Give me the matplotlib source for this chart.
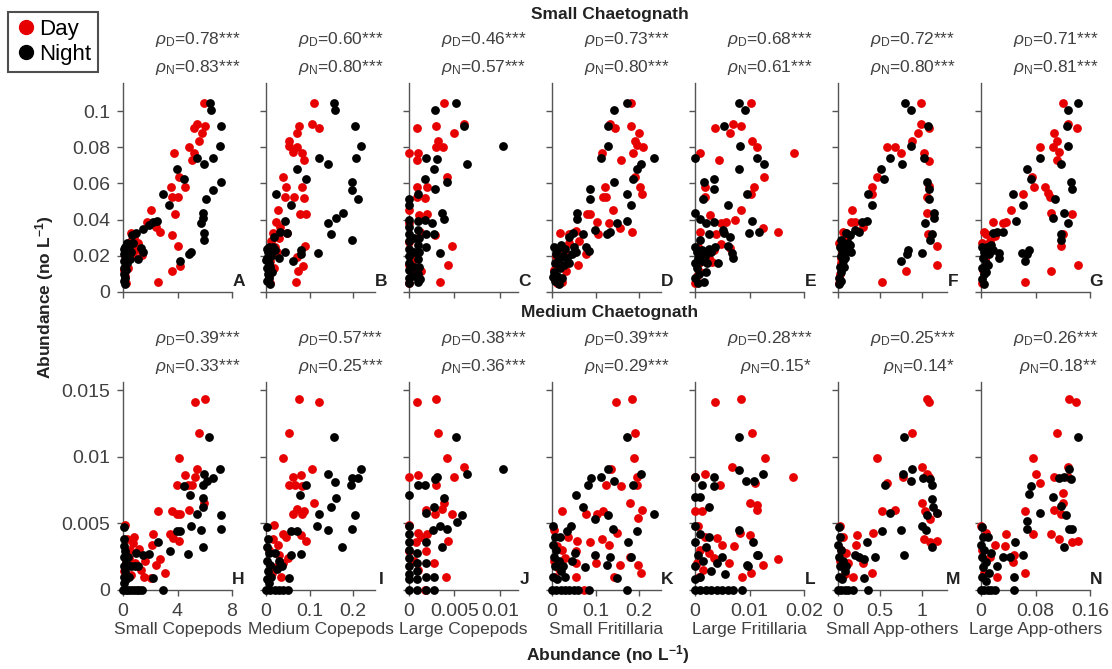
import numpy as np
import matplotlib.pyplot as plt
from matplotlib.lines import Line2D

plt.rcParams['font.family'] = ['Liberation Sans', 'DejaVu Sans']
plt.rcParams['mathtext.fontset'] = 'custom'
plt.rcParams['mathtext.rm'] = 'Liberation Sans'
plt.rcParams['mathtext.it'] = 'Liberation Sans:italic'
plt.rcParams['mathtext.bf'] = 'Liberation Sans:bold'

# ---- labels / stats ----
prey = ['Small Copepods', 'Medium Copepods', 'Large Copepods', 'Small Fritillaria',
        'Large Fritillaria', 'Small App-others', 'Large App-others']
letters_small = ['A', 'B', 'C', 'D', 'E', 'F', 'G']
letters_medium = ['H', 'I', 'J', 'K', 'L', 'M', 'N']
rho_small_day = ['0.78***', '0.60***', '0.46***', '0.73***', '0.68***', '0.72***', '0.71***']
rho_small_night = ['0.83***', '0.80***', '0.57***', '0.80***', '0.61***', '0.80***', '0.81***']
rho_medium_day = ['0.39***', '0.57***', '0.38***', '0.39***', '0.28***', '0.25***', '0.26***']
rho_medium_night = ['0.33***', '0.25***', '0.36***', '0.29***', '0.15*', '0.14*', '0.18**']

x_max = [8, 0.25, 0.012, 0.25, 0.02, 1.3, 0.16]
x_ticks = [[0, 4, 8], [0, 0.1, 0.2], [0, 0.005, 0.01], [0, 0.1, 0.2],
           [0, 0.01, 0.02], [0, 0.5, 1], [0, 0.08, 0.16]]
x_ticklabels = [['0', '4', '8'], ['0', '0.1', '0.2'], ['0', '0.005', '0.01'], ['0', '0.1', '0.2'],
                ['0', '0.01', '0.02'], ['0', '0.5', '1'], ['0', '0.08', '0.16']]
y_ticks_small = [0, 0.02, 0.04, 0.06, 0.08, 0.1]
y_ticklabels_small = ['0', '0.02', '0.04', '0.06', '0.08', '0.1']
y_ticks_medium = [0, 0.005, 0.01, 0.015]
y_ticklabels_medium = ['0', '0.005', '0.01', '0.015']

# ---- small chaetognath (x = prey abundance, y = chaetognath abundance) ----
A_day = [(5.97, 0.1045), (5.41, 0.0926), (5.24, 0.0907), (6.02, 0.0918), (5.82, 0.0876), (5.60, 0.0835),
         (4.84, 0.0802), (5.24, 0.0770), (5.09, 0.0729), (3.77, 0.0770), (4.11, 0.0637), (4.55, 0.0581),
         (3.50, 0.0578), (3.62, 0.0523), (4.01, 0.0526), (3.84, 0.0429), (2.05, 0.0453), (1.74, 0.0388),
         (2.42, 0.0360), (2.71, 0.0333), (3.60, 0.0315), (4.06, 0.0256), (4.16, 0.0145), (3.57, 0.0118),
         (2.54, 0.0057), (0.56, 0.0324), (0.80, 0.0300), (1.13, 0.0269), (1.42, 0.0204), (0.76, 0.0213),
         (1.0, 0.024), (0.45, 0.026), (0.3, 0.022), (0.22, 0.0048), (0.15, 0.009), (0.35, 0.013),
         (0.25, 0.017), (0.1, 0.012), (0.6, 0.028), (0.4, 0.0195), (0.12, 0.02)]
A_night = [(6.38, 0.1045), (6.46, 0.1008), (7.19, 0.0918), (7.12, 0.0806), (6.63, 0.0743), (5.92, 0.0705),
           (5.43, 0.0743), (7.19, 0.0609), (6.58, 0.0563), (6.09, 0.0512), (5.85, 0.0434), (5.90, 0.0407),
           (5.70, 0.0379), (5.92, 0.0324), (5.92, 0.0290), (4.97, 0.0223), (4.82, 0.0210), (4.18, 0.0171),
           (3.94, 0.0677), (4.48, 0.0624), (2.96, 0.0541), (3.40, 0.0480), (2.47, 0.0392), (2.18, 0.0388),
           (1.93, 0.0370), (1.49, 0.0346), (0.95, 0.0328), (0.64, 0.0315), (0.76, 0.0269), (1.30, 0.0245),
           (1.44, 0.0223), (1.08, 0.0182), (0.05, 0.024), (0.15, 0.025), (0.25, 0.023), (0.1, 0.021),
           (0.2, 0.019), (0.05, 0.017), (0.3, 0.016), (0.12, 0.014), (0.22, 0.012), (0.08, 0.010),
           (0.18, 0.008), (0.1, 0.006), (0.15, 0.0045), (0.35, 0.021), (0.45, 0.024), (0.5, 0.018),
           (0.28, 0.027), (0.05, 0.013), (0.6, 0.022)]
B_day = [(0.111, 0.1045), (0.105, 0.0926), (0.121, 0.0904), (0.076, 0.0918), (0.070, 0.0876), (0.052, 0.0835),
         (0.052, 0.0806), (0.072, 0.0802), (0.061, 0.0775), (0.083, 0.0770), (0.087, 0.0729), (0.038, 0.0637),
         (0.045, 0.0581), (0.043, 0.0523), (0.064, 0.0526), (0.083, 0.0581), (0.087, 0.0521), (0.092, 0.0429),
         (0.077, 0.0429), (0.028, 0.0453), (0.022, 0.0388), (0.033, 0.0360), (0.049, 0.0324), (0.070, 0.0195),
         (0.089, 0.0256), (0.085, 0.0145), (0.074, 0.0118), (0.068, 0.0057), (0.017, 0.0324), (0.012, 0.028),
         (0.020, 0.025), (0.015, 0.021), (0.009, 0.0048), (0.010, 0.017), (0.018, 0.013), (0.006, 0.009),
         (0.025, 0.022), (0.03, 0.03), (0.008, 0.02)]
B_night = [(0.155, 0.1045), (0.159, 0.1008), (0.205, 0.0918), (0.218, 0.0806), (0.206, 0.0743), (0.121, 0.0743),
           (0.142, 0.0705), (0.197, 0.0609), (0.197, 0.0563), (0.210, 0.0512), (0.176, 0.0434), (0.161, 0.0407),
           (0.143, 0.0379), (0.148, 0.0318), (0.197, 0.0290), (0.119, 0.0213), (0.072, 0.0677), (0.091, 0.0624),
           (0.024, 0.0541), (0.058, 0.0480), (0.081, 0.0232), (0.080, 0.0210), (0.061, 0.0171), (0.043, 0.0392),
           (0.049, 0.0324), (0.032, 0.0333), (0.018, 0.0306), (0.043, 0.0223), (0.030, 0.0186), (0.002, 0.024),
           (0.005, 0.022), (0.008, 0.025), (0.003, 0.019), (0.006, 0.016), (0.002, 0.013), (0.01, 0.014),
           (0.004, 0.010), (0.007, 0.008), (0.003, 0.006), (0.009, 0.0045), (0.012, 0.02), (0.015, 0.025),
           (0.02, 0.023), (0.013, 0.011), (0.001, 0.0175)]
C_day = [(0.0039, 0.1045), (0.0030, 0.0918), (0.0060, 0.0926), (0.0050, 0.0876), (0.00085, 0.0904),
         (0.0032, 0.0835), (0.0030, 0.0802), (0.0037, 0.0799), (0.0, 0.0770), (0.0010, 0.0770), (0.0009, 0.0729),
         (0.0042, 0.0637), (0.0009, 0.0581), (0.0020, 0.0578), (0.0009, 0.0526), (0.0018, 0.0517),
         (0.0, 0.0453), (0.0011, 0.0425), (0.0020, 0.0429), (0.0, 0.0379), (0.0029, 0.0315), (0.0012, 0.0333),
         (0.0047, 0.0256), (0.0043, 0.0149), (0.0034, 0.0057), (0.0013, 0.0118), (0.0, 0.0048), (0.0, 0.0278),
         (0.0002, 0.022), (0.0, 0.015), (0.0004, 0.010), (0.0007, 0.018)]
C_night = [(0.0052, 0.1045), (0.0029, 0.1008), (0.0060, 0.0918), (0.0103, 0.0806), (0.0064, 0.0705),
           (0.0019, 0.0743), (0.0031, 0.0737), (0.0027, 0.0677), (0.0018, 0.0622), (0.0042, 0.0609),
           (0.0029, 0.0567), (0.0010, 0.0539), (0.0, 0.0513), (0.0, 0.0480), (0.0036, 0.0434), (0.0039, 0.0401),
           (0.0010, 0.0392), (0.0018, 0.0397), (0.0025, 0.0379), (0.0019, 0.0320), (0.0028, 0.0320),
           (0.0019, 0.0247), (0.0034, 0.0213), (0.0010, 0.0057), (0.0, 0.040), (0.0, 0.036), (0.0, 0.032),
           (0.0, 0.028), (0.0, 0.024), (0.0, 0.020), (0.0, 0.016), (0.0, 0.012), (0.0, 0.008), (0.0, 0.005),
           (0.0005, 0.030), (0.0005, 0.022), (0.0005, 0.014), (0.0005, 0.009), (0.0010, 0.034), (0.0011, 0.030),
           (0.0010, 0.026), (0.0011, 0.022), (0.0010, 0.018), (0.0011, 0.014), (0.0010, 0.010), (0.0012, 0.007)]
D_day = [(0.181, 0.1045), (0.134, 0.0926), (0.145, 0.0904), (0.181, 0.0918), (0.199, 0.0876), (0.190, 0.0835),
         (0.196, 0.0811), (0.209, 0.0802), (0.185, 0.0770), (0.159, 0.0729), (0.115, 0.0770), (0.190, 0.0637),
         (0.201, 0.0581), (0.206, 0.0540), (0.121, 0.0581), (0.117, 0.0523), (0.124, 0.0523), (0.139, 0.0453),
         (0.080, 0.0429), (0.087, 0.0429), (0.103, 0.0388), (0.130, 0.0383), (0.157, 0.0355), (0.184, 0.0333),
         (0.106, 0.0320), (0.019, 0.0324), (0.038, 0.0320), (0.055, 0.0339), (0.061, 0.0283), (0.079, 0.0210),
         (0.059, 0.0149), (0.031, 0.0118), (0.024, 0.0057), (0.012, 0.0048), (0.010, 0.020), (0.020, 0.025),
         (0.015, 0.015), (0.005, 0.012), (0.030, 0.022), (0.040, 0.027), (0.008, 0.009)]
D_night = [(0.172, 0.1045), (0.142, 0.1008), (0.129, 0.0918), (0.129, 0.0806), (0.112, 0.0743), (0.234, 0.0743),
           (0.205, 0.0705), (0.196, 0.0677), (0.142, 0.0609), (0.186, 0.0622), (0.172, 0.0539), (0.181, 0.0480),
           (0.173, 0.0394), (0.148, 0.0379), (0.133, 0.0333), (0.127, 0.0320), (0.099, 0.0342), (0.087, 0.0567),
           (0.088, 0.0513), (0.058, 0.0434), (0.058, 0.0401), (0.070, 0.0320), (0.048, 0.0324), (0.078, 0.0250),
           (0.085, 0.0228), (0.040, 0.0306), (0.055, 0.0223), (0.005, 0.025), (0.012, 0.023), (0.02, 0.026),
           (0.03, 0.024), (0.025, 0.02), (0.015, 0.018), (0.035, 0.019), (0.045, 0.021), (0.008, 0.016),
           (0.018, 0.013), (0.028, 0.015), (0.004, 0.011), (0.012, 0.009), (0.022, 0.008), (0.006, 0.006),
           (0.016, 0.0045), (0.002, 0.0085), (0.04, 0.016), (0.05, 0.025), (0.01, 0.021)]
E_day = [(0.0102, 0.1045), (0.0085, 0.0918), (0.0070, 0.0926), (0.0065, 0.0876), (0.0036, 0.0904),
         (0.0104, 0.0835), (0.0114, 0.0802), (0.0181, 0.0770), (0.0009, 0.0770), (0.0044, 0.0729),
         (0.0126, 0.0637), (0.0108, 0.0581), (0.0019, 0.0581), (0.0019, 0.0523), (0.0103, 0.0539),
         (0.0085, 0.0453), (0.0027, 0.0425), (0.0074, 0.0397), (0.0057, 0.0388), (0.0048, 0.0379),
         (0.0125, 0.0355), (0.0152, 0.0333), (0.0010, 0.0333), (0.0038, 0.0320), (0.0048, 0.0263),
         (0.0065, 0.0241), (0.0032, 0.0168), (0.0, 0.0048), (0.0010, 0.0112), (0.0005, 0.025), (0.0015, 0.021),
         (0.0025, 0.019), (0.0008, 0.016), (0.0003, 0.009), (0.0035, 0.023)]
E_night = [(0.0080, 0.1045), (0.0091, 0.1008), (0.0054, 0.0918), (0.0083, 0.0806), (0.0114, 0.0743),
           (0.0126, 0.0705), (0.0080, 0.0677), (0.0, 0.0743), (0.0017, 0.0609), (0.0035, 0.0622), (0.0034, 0.0567),
           (0.0015, 0.0513), (0.0060, 0.0480), (0.0096, 0.0539), (0.0, 0.0434), (0.0010, 0.0401), (0.0020, 0.0379),
           (0.0034, 0.0388), (0.0051, 0.0342), (0.0054, 0.0324), (0.0065, 0.0306), (0.0099, 0.0324),
           (0.0105, 0.0394), (0.0117, 0.0333), (0.0025, 0.0320), (0.0009, 0.0290), (0.0060, 0.0256),
           (0.0037, 0.0250), (0.0068, 0.0213), (0.0070, 0.0186), (0.0043, 0.0158), (0.0020, 0.0112),
           (0.0017, 0.0057), (0.0, 0.025), (0.0003, 0.022), (0.0006, 0.019), (0.0, 0.016), (0.0004, 0.013),
           (0.0008, 0.010), (0.0, 0.008), (0.0005, 0.005), (0.0012, 0.023), (0.0018, 0.02), (0.0025, 0.024),
           (0.0013, 0.017), (0.0030, 0.022), (0.0022, 0.016)]
F_day = [(0.99, 0.1045), (0.99, 0.0926), (1.09, 0.0904), (0.95, 0.0876), (0.88, 0.0835), (0.68, 0.0802),
         (0.58, 0.0802), (0.75, 0.0770), (1.02, 0.0770), (1.09, 0.0725), (0.47, 0.0637), (0.41, 0.0581),
         (0.40, 0.0540), (1.06, 0.0526), (1.08, 0.0585), (1.06, 0.0434), (1.07, 0.0318), (1.18, 0.0256),
         (1.18, 0.0149), (0.81, 0.0118), (0.52, 0.0057), (0.17, 0.0453), (0.20, 0.0388), (0.15, 0.0388),
         (0.30, 0.0360), (0.06, 0.0333), (0.09, 0.0324), (0.016, 0.0048), (0.02, 0.010), (0.03, 0.016),
         (0.05, 0.022), (0.01, 0.027), (0.08, 0.028), (0.04, 0.019), (0.12, 0.031)]
F_night = [(0.80, 0.1045), (0.87, 0.1008), (1.07, 0.0918), (0.87, 0.0806), (0.62, 0.0743), (0.76, 0.0705),
           (1.02, 0.0743), (0.51, 0.0677), (0.55, 0.0622), (0.36, 0.0541), (0.41, 0.0480), (1.06, 0.0609),
           (1.08, 0.0567), (1.09, 0.0512), (1.14, 0.0434), (1.14, 0.0407), (1.04, 0.0379), (1.12, 0.0320),
           (1.10, 0.0290), (1.00, 0.0213), (0.84, 0.0232), (0.82, 0.0210), (0.75, 0.0171), (0.35, 0.0392),
           (0.29, 0.0388), (0.25, 0.0333), (0.20, 0.0342), (0.14, 0.0315), (0.10, 0.0328), (0.14, 0.0260),
           (0.16, 0.0223), (0.08, 0.0186), (0.02, 0.025), (0.05, 0.023), (0.08, 0.025), (0.03, 0.020),
           (0.06, 0.017), (0.02, 0.014), (0.04, 0.011), (0.01, 0.008), (0.03, 0.006), (0.015, 0.0045),
           (0.1, 0.022), (0.12, 0.027), (0.04, 0.029), (0.07, 0.014)]
G_day = [(0.1205, 0.1045), (0.128, 0.0926), (0.141, 0.0904), (0.107, 0.0876), (0.112, 0.0835), (0.106, 0.0802),
         (0.087, 0.0802), (0.115, 0.0775), (0.112, 0.0729), (0.075, 0.0637), (0.078, 0.0581), (0.062, 0.0539),
         (0.101, 0.0526), (0.103, 0.0434), (0.134, 0.0429), (0.120, 0.0318), (0.117, 0.0256), (0.142, 0.0149),
         (0.103, 0.0118), (0.064, 0.0057), (0.044, 0.0453), (0.037, 0.0388), (0.033, 0.0379), (0.017, 0.0388),
         (0.004, 0.0333), (0.008, 0.0320), (0.001, 0.0048), (0.003, 0.012), (0.006, 0.018), (0.010, 0.024),
         (0.002, 0.027), (0.013, 0.028), (0.007, 0.021), (0.02, 0.031), (0.098, 0.0548), (0.094, 0.0583)]
G_night = [(0.142, 0.1045), (0.128, 0.1008), (0.126, 0.0918), (0.128, 0.0806), (0.086, 0.0743), (0.117, 0.0705),
           (0.067, 0.0677), (0.074, 0.0622), (0.047, 0.0541), (0.062, 0.0480), (0.132, 0.0609), (0.133, 0.0567),
           (0.109, 0.0512), (0.122, 0.0434), (0.105, 0.0407), (0.127, 0.0379), (0.117, 0.0320), (0.117, 0.0290),
           (0.070, 0.0232), (0.068, 0.0210), (0.064, 0.0171), (0.060, 0.0213), (0.051, 0.0392), (0.033, 0.0333),
           (0.023, 0.0333), (0.018, 0.0324), (0.026, 0.0213), (0.026, 0.0186), (0.002, 0.025), (0.005, 0.022),
           (0.009, 0.025), (0.003, 0.019), (0.007, 0.016), (0.002, 0.013), (0.005, 0.010), (0.001, 0.007),
           (0.004, 0.0045), (0.012, 0.021), (0.015, 0.026), (0.010, 0.015), (0.018, 0.023), (0.008, 0.011)]

# ---- medium chaetognath ----
H_day = [(6.02, 0.0143), (5.28, 0.0141), (5.60, 0.0118), (4.13, 0.0099), (5.41, 0.0091), (4.55, 0.0086),
         (5.28, 0.0085), (3.94, 0.0079), (5.04, 0.0079), (4.75, 0.0079), (5.97, 0.0065), (4.87, 0.0060),
         (3.57, 0.0059), (3.94, 0.0057), (4.18, 0.0057), (2.54, 0.0059), (3.45, 0.0042), (3.64, 0.0039),
         (4.13, 0.0037), (2.23, 0.0042), (2.10, 0.0034), (2.71, 0.0023), (2.42, 0.0019), (3.08, 0.0013),
         (1.57, 0.0010), (2.05, 0.0009), (0.15, 0.0049), (0.83, 0.0040), (1.20, 0.0031), (0.5, 0.0030),
         (0.2, 0.0022), (0.9, 0.0020), (0.6, 0.0011), (1.3, 0.0015), (0.3, 0.0038), (0.1, 0.0014),
         (0.45, 0.0024), (1.65, 0.0022), (0.7, 0.0035)]
H_night = [(6.34, 0.0115), (7.12, 0.0091), (5.97, 0.0087), (6.58, 0.0084), (6.14, 0.0082), (5.90, 0.0079),
           (4.48, 0.0078), (4.92, 0.0071), (5.90, 0.0069), (5.85, 0.0062), (5.41, 0.0057), (7.19, 0.0056),
           (7.19, 0.0046), (4.99, 0.0048), (5.70, 0.0045), (5.85, 0.0032), (4.80, 0.0027), (4.18, 0.0044),
           (3.94, 0.0044), (3.45, 0.0029), (2.54, 0.0036), (1.93, 0.0027), (1.49, 0.0026), (0.93, 0.0028),
           (2.96, 0.0), (2.23, 0.0009), (0.0, 0.0), (0.2, 0.0), (0.4, 0.0), (0.6, 0.0), (0.8, 0.0), (1.0, 0.0),
           (1.2, 0.0), (1.4, 0.0), (0.05, 0.0047), (0.1, 0.0038), (0.05, 0.0033), (0.15, 0.0029), (0.05, 0.0025),
           (0.2, 0.0020), (0.05, 0.0018), (0.12, 0.0014), (0.05, 0.0010), (0.2, 0.0008), (0.1, 0.0005),
           (0.6, 0.0018), (0.9, 0.0018), (0.45, 0.0010), (1.1, 0.0018), (0.4, 0.0025)]
I_day = [(0.076, 0.0143), (0.121, 0.0141), (0.052, 0.0118), (0.039, 0.0099), (0.105, 0.0091), (0.061, 0.0085),
         (0.081, 0.0086), (0.052, 0.0079), (0.066, 0.0079), (0.083, 0.0078), (0.111, 0.0065), (0.072, 0.0061),
         (0.062, 0.0057), (0.087, 0.0059), (0.083, 0.0057), (0.092, 0.0037), (0.081, 0.0041), (0.019, 0.0049),
         (0.039, 0.0042), (0.028, 0.0034), (0.039, 0.0020), (0.013, 0.0013), (0.045, 0.0040), (0.03, 0.0026),
         (0.022, 0.0017), (0.008, 0.0030), (0.035, 0.0010), (0.015, 0.0038), (0.05, 0.0024)]
I_night = [(0.155, 0.0115), (0.218, 0.0091), (0.197, 0.0084), (0.210, 0.0084), (0.196, 0.0079), (0.142, 0.0087),
           (0.159, 0.0081), (0.161, 0.0069), (0.148, 0.0062), (0.205, 0.0056), (0.121, 0.0057), (0.197, 0.0046),
           (0.142, 0.0045), (0.118, 0.0048), (0.174, 0.0032), (0.091, 0.0079), (0.077, 0.0071), (0.058, 0.0044),
           (0.072, 0.0044), (0.080, 0.0027), (0.058, 0.0026), (0.052, 0.0009), (0.037, 0.0018), (0.0, 0.0),
           (0.01, 0.0), (0.02, 0.0), (0.03, 0.0), (0.04, 0.0), (0.05, 0.0), (0.002, 0.0047), (0.005, 0.0038),
           (0.002, 0.0032), (0.008, 0.0028), (0.003, 0.0022), (0.01, 0.0019), (0.004, 0.0014), (0.012, 0.0010),
           (0.003, 0.0008), (0.02, 0.0028), (0.025, 0.0016), (0.03, 0.0022), (0.006, 0.0005)]
J_day = [(0.00085, 0.0141), (0.0030, 0.0143), (0.0032, 0.0118), (0.0042, 0.0099), (0.0060, 0.0092),
         (0.0050, 0.0085), (0.0010, 0.0086), (0.0030, 0.0079), (0.0, 0.0085), (0.0039, 0.0065), (0.0036, 0.0061),
         (0.0029, 0.0057), (0.0047, 0.0057), (0.0019, 0.0060), (0.0043, 0.0037), (0.0010, 0.0043),
         (0.0020, 0.0042), (0.0019, 0.0029), (0.0028, 0.0020), (0.0041, 0.0010), (0.0018, 0.0), (0.0, 0.0049),
         (0.0, 0.0029), (0.0008, 0.0036), (0.0013, 0.0040), (0.0010, 0.0015), (0.0005, 0.0022)]
J_night = [(0.0052, 0.0115), (0.0103, 0.0091), (0.0064, 0.0087), (0.0031, 0.0085), (0.0029, 0.0083),
           (0.0010, 0.0079), (0.0018, 0.0079), (0.0, 0.0071), (0.0038, 0.0069), (0.0027, 0.0062), (0.0019, 0.0058),
           (0.0058, 0.0056), (0.0034, 0.0048), (0.0042, 0.0046), (0.0026, 0.0045), (0.0053, 0.0051),
           (0.0036, 0.0032), (0.0019, 0.0036), (0.0028, 0.0010), (0.0028, 0.0), (0.0, 0.0048), (0.0, 0.0042),
           (0.0, 0.0036), (0.0, 0.0030), (0.0, 0.0024), (0.0, 0.0018), (0.0, 0.0012), (0.0, 0.0008), (0.0, 0.0),
           (0.0009, 0.0028), (0.0009, 0.0020), (0.0009, 0.0014), (0.0009, 0.0008), (0.0009, 0.0),
           (0.0019, 0.0020), (0.0019, 0.0010), (0.0019, 0.0)]
K_day = [(0.183, 0.0143), (0.147, 0.0141), (0.190, 0.0118), (0.188, 0.0099), (0.136, 0.0091), (0.194, 0.0085),
         (0.196, 0.0079), (0.123, 0.0079), (0.159, 0.0078), (0.179, 0.0065), (0.207, 0.0060), (0.078, 0.0057),
         (0.104, 0.0057), (0.117, 0.0059), (0.023, 0.0059), (0.148, 0.0043), (0.115, 0.0038), (0.130, 0.0034),
         (0.198, 0.0054), (0.088, 0.0036), (0.058, 0.0037), (0.037, 0.0040), (0.055, 0.0029), (0.100, 0.0020),
         (0.155, 0.0019), (0.198, 0.0019), (0.055, 0.0020), (0.024, 0.0030), (0.205, 0.0013), (0.142, 0.0010),
         (0.055, 0.0010), (0.074, 0.0), (0.180, 0.0025), (0.005, 0.0045), (0.012, 0.0033), (0.004, 0.0022),
         (0.015, 0.0016), (0.008, 0.0010), (0.03, 0.0024)]
K_night = [(0.172, 0.0115), (0.205, 0.0087), (0.186, 0.0079), (0.128, 0.0091), (0.142, 0.0082), (0.112, 0.0085),
           (0.089, 0.0084), (0.082, 0.0079), (0.055, 0.0071), (0.070, 0.0062), (0.128, 0.0056), (0.233, 0.0057),
           (0.099, 0.0053), (0.044, 0.0048), (0.035, 0.0044), (0.140, 0.0046), (0.196, 0.0044), (0.174, 0.0036),
           (0.052, 0.0028), (0.076, 0.0017), (0.099, 0.0026), (0.126, 0.0019), (0.134, 0.0025), (0.181, 0.0025),
           (0.148, 0.0009), (0.172, 0.0), (0.084, 0.0), (0.0, 0.0), (0.01, 0.0), (0.02, 0.0), (0.03, 0.0),
           (0.04, 0.0), (0.05, 0.0), (0.06, 0.0), (0.003, 0.0048), (0.006, 0.0040), (0.002, 0.0034),
           (0.010, 0.0030), (0.004, 0.0025), (0.015, 0.0022), (0.006, 0.0018), (0.02, 0.0014), (0.003, 0.0010),
           (0.012, 0.0008), (0.025, 0.0018), (0.03, 0.0010), (0.045, 0.0022), (0.018, 0.0040)]
L_day = [(0.0037, 0.0141), (0.0085, 0.0143), (0.0105, 0.0118), (0.0128, 0.0099), (0.0068, 0.0092),
         (0.0111, 0.0080), (0.0153, 0.0023), (0.0019, 0.0087), (0.0, 0.0085), (0.0046, 0.0079), (0.0101, 0.0065),
         (0.0114, 0.0060), (0.0, 0.0059), (0.0012, 0.0059), (0.0180, 0.0085), (0.0113, 0.0064), (0.0083, 0.0043),
         (0.0101, 0.0041), (0.0040, 0.0039), (0.0049, 0.0034), (0.0071, 0.0033), (0.0019, 0.0040),
         (0.0034, 0.0024), (0.0125, 0.0019), (0.0062, 0.0020), (0.0086, 0.0010), (0.0102, 0.0013),
         (0.0005, 0.0048), (0.0010, 0.0030), (0.0003, 0.0020), (0.0015, 0.0015), (0.0008, 0.0010),
         (0.0025, 0.0028)]
L_night = [(0.0080, 0.0115), (0.0125, 0.0087), (0.0108, 0.0082), (0.0, 0.0085), (0.0012, 0.0079),
           (0.0034, 0.0085), (0.0034, 0.0078), (0.0080, 0.0090), (0.0093, 0.0082), (0.0, 0.0070), (0.0010, 0.0070),
           (0.0025, 0.0062), (0.0080, 0.0045), (0.0107, 0.0036), (0.0116, 0.0026), (0.0097, 0.0018),
           (0.0086, 0.0), (0.0096, 0.0019), (0.0114, 0.0026), (0.0, 0.0), (0.001, 0.0), (0.002, 0.0), (0.003, 0.0),
           (0.004, 0.0), (0.005, 0.0), (0.006, 0.0), (0.007, 0.0), (0.0, 0.0048), (0.001, 0.0042), (0.0, 0.0036),
           (0.002, 0.0032), (0.0005, 0.0026), (0.0015, 0.0022), (0.0, 0.0018), (0.003, 0.0014), (0.001, 0.0010),
           (0.004, 0.0020), (0.0025, 0.0040), (0.005, 0.0025), (0.0055, 0.0012), (0.0, 0.0008)]
M_day = [(1.06, 0.0143), (1.09, 0.0141), (0.88, 0.0118), (0.47, 0.0099), (1.00, 0.0092), (1.06, 0.0087),
         (1.09, 0.0085), (0.58, 0.0080), (0.78, 0.0085), (0.52, 0.0059), (0.68, 0.0060), (1.00, 0.0065),
         (1.04, 0.0059), (1.10, 0.0053), (1.18, 0.0058), (1.02, 0.0038), (1.10, 0.0036), (1.18, 0.0037),
         (0.42, 0.0043), (0.23, 0.0041), (0.21, 0.0034), (0.40, 0.0013), (0.30, 0.0020), (0.18, 0.0010),
         (0.06, 0.0040), (0.02, 0.0048), (0.12, 0.0020), (0.04, 0.0030), (0.08, 0.0012), (0.02, 0.0022),
         (0.10, 0.0028)]
M_night = [(0.79, 0.0115), (0.88, 0.0091), (0.77, 0.0087), (0.87, 0.0082), (1.01, 0.0084), (1.10, 0.0083),
           (1.12, 0.0079), (0.56, 0.0079), (1.12, 0.0068), (1.13, 0.0062), (1.18, 0.0058), (1.06, 0.0056),
           (0.62, 0.0058), (1.00, 0.0048), (1.05, 0.0045), (1.12, 0.0032), (0.75, 0.0045), (0.79, 0.0026),
           (0.52, 0.0044), (0.35, 0.0036), (0.44, 0.0025), (0.20, 0.0026), (0.25, 0.0025), (0.31, 0.0023),
           (0.31, 0.0009), (0.36, 0.0), (0.18, 0.0), (0.0, 0.0), (0.04, 0.0), (0.08, 0.0), (0.12, 0.0),
           (0.01, 0.0047), (0.02, 0.0040), (0.0, 0.0034), (0.04, 0.0030), (0.01, 0.0025), (0.06, 0.0022),
           (0.02, 0.0018), (0.08, 0.0014), (0.01, 0.0010), (0.05, 0.0008), (0.1, 0.0018)]
N_day = [(0.129, 0.0143), (0.140, 0.0141), (0.111, 0.0118), (0.077, 0.0099), (0.080, 0.0087), (0.087, 0.0080),
         (0.107, 0.0085), (0.128, 0.0092), (0.128, 0.0085), (0.121, 0.0073), (0.107, 0.0060), (0.121, 0.0065),
         (0.117, 0.0057), (0.064, 0.0059), (0.076, 0.0042), (0.103, 0.0042), (0.114, 0.0038), (0.134, 0.0036),
         (0.143, 0.0037), (0.037, 0.0042), (0.035, 0.0033), (0.047, 0.0021), (0.048, 0.0026), (0.064, 0.0013),
         (0.020, 0.0034), (0.007, 0.0043), (0.0, 0.0048), (0.013, 0.0025), (0.004, 0.0013), (0.024, 0.0010),
         (0.002, 0.0030)]
N_night = [(0.142, 0.0115), (0.129, 0.0091), (0.122, 0.0085), (0.115, 0.0084), (0.132, 0.0083), (0.073, 0.0078),
           (0.070, 0.0072), (0.106, 0.0070), (0.118, 0.0063), (0.125, 0.0056), (0.087, 0.0058), (0.068, 0.0052),
           (0.067, 0.0046), (0.122, 0.0032), (0.129, 0.0046), (0.134, 0.0046), (0.050, 0.0036), (0.062, 0.0026),
           (0.042, 0.0025), (0.033, 0.0025), (0.023, 0.0018), (0.048, 0.0010), (0.048, 0.0), (0.0, 0.0),
           (0.005, 0.0), (0.010, 0.0), (0.015, 0.0), (0.020, 0.0), (0.001, 0.0047), (0.003, 0.0040),
           (0.0, 0.0034), (0.005, 0.0030), (0.002, 0.0025), (0.008, 0.0021), (0.003, 0.0017), (0.012, 0.0013),
           (0.002, 0.0010), (0.007, 0.0007), (0.015, 0.0028), (0.010, 0.0040)]

small_day = [A_day, B_day, C_day, D_day, E_day, F_day, G_day]
small_night = [A_night, B_night, C_night, D_night, E_night, F_night, G_night]
medium_day = [H_day, I_day, J_day, K_day, L_day, M_day, N_day]
medium_night = [H_night, I_night, J_night, K_night, L_night, M_night, N_night]

DAY_COLOR = '#e60000'
NIGHT_COLOR = 'black'
AX_COLOR = '#555555'
TXT_COLOR = '#404040'

W, H = 1112, 669
fig = plt.figure(figsize=(W / 100, H / 100), dpi=100)


def draw_panel(ax, day, night, col, ymax, yticks, yticklabels, letter, rd, rn, bottom_row):
    dx, dy = np.array(day).T
    nx, ny = np.array(night).T
    ax.scatter(dx, dy, s=40, color=DAY_COLOR, linewidths=0, clip_on=False, zorder=3)
    ax.scatter(nx, ny, s=40, color=NIGHT_COLOR, linewidths=0, clip_on=False, zorder=4)
    ax.set_xlim(0, x_max[col])
    ax.set_ylim(0, ymax)
    ax.set_xticks(x_ticks[col])
    ax.set_yticks(yticks)
    for s in ['top', 'right']:
        ax.spines[s].set_visible(False)
    for s in ['left', 'bottom']:
        ax.spines[s].set_color(AX_COLOR)
        ax.spines[s].set_linewidth(1.0)
    ax.tick_params(direction='out', length=4, width=1.0, color=AX_COLOR,
                   labelcolor=TXT_COLOR, labelsize=14, pad=5)
    if col == 0:
        ax.set_yticklabels(yticklabels)
    else:
        ax.set_yticklabels([])
    if bottom_row:
        ax.set_xticklabels(x_ticklabels[col])
        ax.set_xlabel(prey[col], fontsize=12.5, color=TXT_COLOR, labelpad=2)
    else:
        ax.set_xticklabels([])
    ax.text(1.06, 0.05, letter, transform=ax.transAxes, ha='center', va='center',
            fontsize=12.5, fontweight='bold', color='#222222')
    ax.text(1.075, 1.187, r'$\rho_{\mathrm{D}}$=' + rd, transform=ax.transAxes, ha='right',
            va='baseline', fontsize=12.5, color=TXT_COLOR)
    ax.text(1.075, 1.055, r'$\rho_{\mathrm{N}}$=' + rn, transform=ax.transAxes, ha='right',
            va='baseline', fontsize=12.5, color=TXT_COLOR)


for i in range(7):
    left = (123 + 143 * i) / W
    ax1 = fig.add_axes([left, 1 - 292 / H, 109 / W, 209 / H])
    draw_panel(ax1, small_day[i], small_night[i], i, 0.1155, y_ticks_small, y_ticklabels_small,
               letters_small[i], rho_small_day[i], rho_small_night[i], False)
    ax2 = fig.add_axes([left, 1 - 590 / H, 109 / W, 208 / H])
    draw_panel(ax2, medium_day[i], medium_night[i], i, 0.0156, y_ticks_medium, y_ticklabels_medium,
               letters_medium[i], rho_medium_day[i], rho_medium_night[i], True)

fig.text(610 / W, 1 - 15 / H, 'Small Chaetognath', ha='center', va='center',
         fontsize=12.5, fontweight='bold', color='#222222')
fig.text(610 / W, 1 - 313 / H, 'Medium Chaetognath', ha='center', va='center',
         fontsize=12.5, fontweight='bold', color='#222222')
fig.text(608 / W, 1 - 655 / H, r'Abundance (no L$^{\mathbf{-1}}$)', ha='center', va='center',
         fontsize=12.5, fontweight='bold', color='#222222')
fig.text(45 / W, 1 - 297 / H, r'Abundance (no L$^{\mathbf{-1}}$)', ha='center', va='center',
         rotation=90, fontsize=12.5, fontweight='bold', color='#222222')

handles = [Line2D([], [], marker='o', linestyle='none', markersize=10, color=DAY_COLOR),
           Line2D([], [], marker='o', linestyle='none', markersize=10, color=NIGHT_COLOR)]
leg = fig.legend(handles, ['Day', 'Night'], loc='upper left', bbox_to_anchor=(8 / W, 1 - 12 / H),
                 fontsize=16, frameon=True, fancybox=False, handletextpad=0.1, handlelength=1.0,
                 borderpad=0.3, labelspacing=0.2, borderaxespad=0)
leg.get_frame().set_edgecolor('#222222')
leg.get_frame().set_linewidth(1.5)

fig.savefig('out.png', dpi=100)
